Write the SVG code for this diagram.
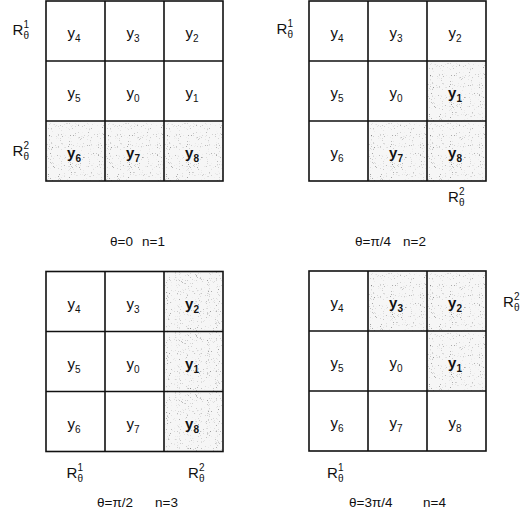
<svg xmlns="http://www.w3.org/2000/svg" width="529" height="514" viewBox="0 0 529 514">
<style>
  text { font-family: "Liberation Sans", Arial, sans-serif; fill: #111; }
  .s { fill: #f6f6f6; stroke: none; }
  .st { stroke: none; filter: url(#stip); fill: #fff; }
  .b { fill: none; stroke: #111; stroke-width: 1.6; }
  .y { font-size: 15px; text-anchor: middle; }
  .yb { font-size: 15px; text-anchor: middle; font-weight: bold; }
  .sub { font-size: 10px; }
  .R { font-size: 15px; }
  .sm { font-size: 10px; }
  .cap { font-size: 13.5px; }
</style>
<defs>
  <filter id="stip" x="0" y="0" width="1" height="1" color-interpolation-filters="sRGB">
    <feTurbulence type="fractalNoise" baseFrequency="0.9" numOctaves="2" seed="7" result="n"/>
    <feColorMatrix in="n" type="matrix" values="0 0 0 0 0.5  0 0 0 0 0.5  0 0 0 0 0.5  4 0 0 0 -2.55" result="dots"/>
    <feComposite in="dots" in2="SourceAlpha" operator="in"/>
  </filter>
  <g id="sh">
    <rect class="s" width="59" height="60"/>
    <rect class="st" width="59" height="60"/>
  </g>
</defs>

<!-- Panel 1: theta=0, n=1 -->
<g id="panel1">
  <g id="p1-shade">
    <use href="#sh" x="46" y="121"/>
    <use href="#sh" x="105" y="121"/>
    <use href="#sh" x="164" y="121"/>
  </g>
  <g id="p1-grid">
    <rect class="b" x="46" y="1" width="177" height="180"/>
    <path class="b" d="M105 1V181M164 1V181M46 61H223M46 121H223"/>
  </g>
  <g id="p1-y4"><text class="y" x="74" y="38">y<tspan class="sub" dy="4">4</tspan></text></g>
  <g id="p1-y3"><text class="y" x="133" y="38">y<tspan class="sub" dy="4">3</tspan></text></g>
  <g id="p1-y2"><text class="y" x="192" y="38">y<tspan class="sub" dy="4">2</tspan></text></g>
  <g id="p1-y5"><text class="y" x="74" y="98">y<tspan class="sub" dy="4">5</tspan></text></g>
  <g id="p1-y0"><text class="y" x="133" y="98">y<tspan class="sub" dy="4">0</tspan></text></g>
  <g id="p1-y1"><text class="y" x="192" y="98">y<tspan class="sub" dy="4">1</tspan></text></g>
  <g id="p1-y6"><text class="yb" x="74" y="158">y<tspan class="sub" dy="4">6</tspan></text></g>
  <g id="p1-y7"><text class="yb" x="133" y="158">y<tspan class="sub" dy="4">7</tspan></text></g>
  <g id="p1-y8"><text class="yb" x="192" y="158">y<tspan class="sub" dy="4">8</tspan></text></g>
  <g id="p1-R1"><text class="R" x="12.5" y="35">R</text><text class="sm" x="23.5" y="28">1</text><text class="sm" x="23.5" y="39">θ</text></g>
  <g id="p1-R2"><text class="R" x="12.5" y="156">R</text><text class="sm" x="23.5" y="149">2</text><text class="sm" x="23.5" y="160">θ</text></g>
  <g id="p1-cap"><text class="cap" x="110" y="246">θ=0</text><text class="cap" x="142" y="246">n=1</text></g>
</g>

<!-- Panel 2: theta=pi/4, n=2 -->
<g id="panel2">
  <g id="p2-shade">
    <use href="#sh" x="427" y="61"/>
    <use href="#sh" x="368" y="121"/>
    <use href="#sh" x="427" y="121"/>
  </g>
  <g id="p2-grid">
    <rect class="b" x="309" y="1" width="177" height="180"/>
    <path class="b" d="M368 1V181M427 1V181M309 61H486M309 121H486"/>
  </g>
  <g id="p2-y4"><text class="y" x="337" y="38">y<tspan class="sub" dy="4">4</tspan></text></g>
  <g id="p2-y3"><text class="y" x="396" y="38">y<tspan class="sub" dy="4">3</tspan></text></g>
  <g id="p2-y2"><text class="y" x="455" y="38">y<tspan class="sub" dy="4">2</tspan></text></g>
  <g id="p2-y5"><text class="y" x="337" y="98">y<tspan class="sub" dy="4">5</tspan></text></g>
  <g id="p2-y0"><text class="y" x="396" y="98">y<tspan class="sub" dy="4">0</tspan></text></g>
  <g id="p2-y1"><text class="yb" x="455" y="98">y<tspan class="sub" dy="4">1</tspan></text></g>
  <g id="p2-y6"><text class="y" x="337" y="158">y<tspan class="sub" dy="4">6</tspan></text></g>
  <g id="p2-y7"><text class="yb" x="396" y="158">y<tspan class="sub" dy="4">7</tspan></text></g>
  <g id="p2-y8"><text class="yb" x="455" y="158">y<tspan class="sub" dy="4">8</tspan></text></g>
  <g id="p2-R1"><text class="R" x="276.5" y="34">R</text><text class="sm" x="287.5" y="27">1</text><text class="sm" x="287.5" y="38">θ</text></g>
  <g id="p2-R2"><text class="R" x="448" y="202">R</text><text class="sm" x="459" y="195">2</text><text class="sm" x="459" y="206">θ</text></g>
  <g id="p2-cap"><text class="cap" x="355" y="246">θ=π/4</text><text class="cap" x="403" y="246">n=2</text></g>
</g>

<!-- Panel 3: theta=pi/2, n=3 -->
<g id="panel3">
  <g id="p3-shade">
    <use href="#sh" x="164" y="271.5"/>
    <use href="#sh" x="164" y="331.5"/>
    <use href="#sh" x="164" y="391.5"/>
  </g>
  <g id="p3-grid">
    <rect class="b" x="46" y="271.5" width="177" height="180"/>
    <path class="b" d="M105 271.5V451.5M164 271.5V451.5M46 331.5H223M46 391.5H223"/>
  </g>
  <g id="p3-y4"><text class="y" x="74" y="308.5">y<tspan class="sub" dy="4">4</tspan></text></g>
  <g id="p3-y3"><text class="y" x="133" y="308.5">y<tspan class="sub" dy="4">3</tspan></text></g>
  <g id="p3-y2"><text class="yb" x="192" y="308.5">y<tspan class="sub" dy="4">2</tspan></text></g>
  <g id="p3-y5"><text class="y" x="74" y="368.5">y<tspan class="sub" dy="4">5</tspan></text></g>
  <g id="p3-y0"><text class="y" x="133" y="368.5">y<tspan class="sub" dy="4">0</tspan></text></g>
  <g id="p3-y1"><text class="yb" x="192" y="368.5">y<tspan class="sub" dy="4">1</tspan></text></g>
  <g id="p3-y6"><text class="y" x="74" y="428.5">y<tspan class="sub" dy="4">6</tspan></text></g>
  <g id="p3-y7"><text class="y" x="133" y="428.5">y<tspan class="sub" dy="4">7</tspan></text></g>
  <g id="p3-y8"><text class="yb" x="192" y="428.5">y<tspan class="sub" dy="4">8</tspan></text></g>
  <g id="p3-R1"><text class="R" x="66.5" y="477.5">R</text><text class="sm" x="77.5" y="470.5">1</text><text class="sm" x="77.5" y="481.5">θ</text></g>
  <g id="p3-R2"><text class="R" x="188" y="477.5">R</text><text class="sm" x="199" y="470.5">2</text><text class="sm" x="199" y="481.5">θ</text></g>
  <g id="p3-cap"><text class="cap" x="97" y="506.5">θ=π/2</text><text class="cap" x="155" y="506.5">n=3</text></g>
</g>

<!-- Panel 4: theta=3pi/4, n=4 -->
<g id="panel4">
  <g id="p4-shade">
    <use href="#sh" x="368" y="271"/>
    <use href="#sh" x="427" y="271"/>
    <use href="#sh" x="427" y="331"/>
  </g>
  <g id="p4-grid">
    <rect class="b" x="309" y="271" width="177" height="180"/>
    <path class="b" d="M368 271V451M427 271V451M309 331H486M309 391H486"/>
  </g>
  <g id="p4-y4"><text class="y" x="337" y="308">y<tspan class="sub" dy="4">4</tspan></text></g>
  <g id="p4-y3"><text class="yb" x="396" y="308">y<tspan class="sub" dy="4">3</tspan></text></g>
  <g id="p4-y2"><text class="yb" x="455" y="308">y<tspan class="sub" dy="4">2</tspan></text></g>
  <g id="p4-y5"><text class="y" x="337" y="368">y<tspan class="sub" dy="4">5</tspan></text></g>
  <g id="p4-y0"><text class="y" x="396" y="368">y<tspan class="sub" dy="4">0</tspan></text></g>
  <g id="p4-y1"><text class="yb" x="455" y="368">y<tspan class="sub" dy="4">1</tspan></text></g>
  <g id="p4-y6"><text class="y" x="337" y="428">y<tspan class="sub" dy="4">6</tspan></text></g>
  <g id="p4-y7"><text class="y" x="396" y="428">y<tspan class="sub" dy="4">7</tspan></text></g>
  <g id="p4-y8"><text class="y" x="455" y="428">y<tspan class="sub" dy="4">8</tspan></text></g>
  <g id="p4-R1"><text class="R" x="327" y="478">R</text><text class="sm" x="338" y="471">1</text><text class="sm" x="338" y="482">θ</text></g>
  <g id="p4-R2"><text class="R" x="503" y="306.5">R</text><text class="sm" x="514" y="299.5">2</text><text class="sm" x="514" y="310.5">θ</text></g>
  <g id="p4-cap"><text class="cap" x="349" y="506.5">θ=3π/4</text><text class="cap" x="423" y="506.5">n=4</text></g>
</g>
</svg>
